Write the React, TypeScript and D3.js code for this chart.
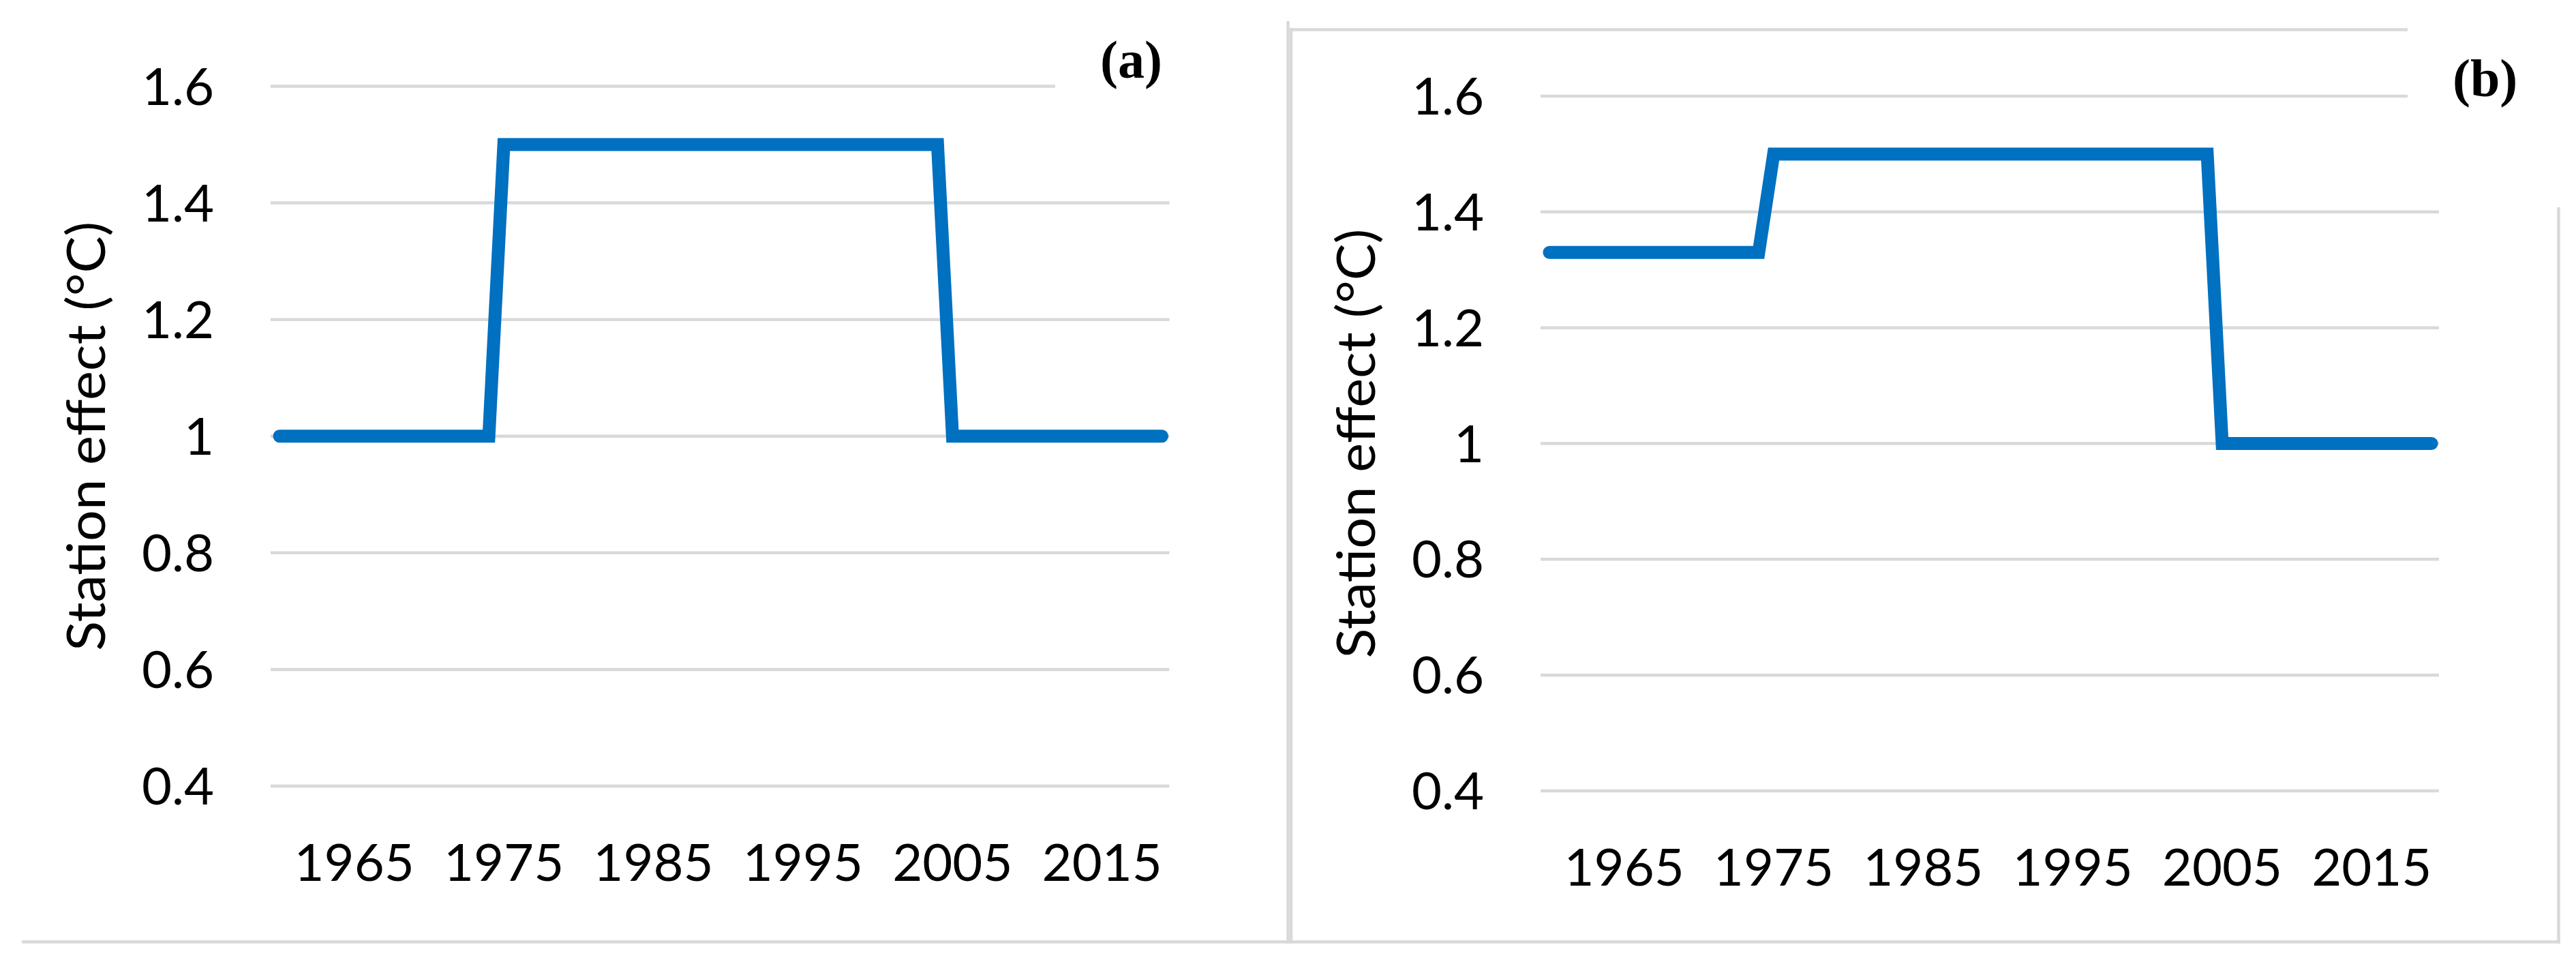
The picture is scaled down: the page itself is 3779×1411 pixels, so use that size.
import React, { FC, useMemo } from 'react'
import * as d3 from 'd3'

// years on the category axis
const years = [
	1960, 1961, 1962, 1963, 1964, 1965, 1966, 1967, 1968, 1969,
	1970, 1971, 1972, 1973, 1974, 1975, 1976, 1977, 1978, 1979,
	1980, 1981, 1982, 1983, 1984, 1985, 1986, 1987, 1988, 1989,
	1990, 1991, 1992, 1993, 1994, 1995, 1996, 1997, 1998, 1999,
	2000, 2001, 2002, 2003, 2004, 2005, 2006, 2007, 2008, 2009,
	2010, 2011, 2012, 2013, 2014, 2015, 2016, 2017, 2018, 2019
]

// station effect, panel (a)
const effectA = [
	1, 1, 1, 1, 1, 1, 1, 1, 1, 1,
	1, 1, 1, 1, 1, 1.5, 1.5, 1.5, 1.5, 1.5,
	1.5, 1.5, 1.5, 1.5, 1.5, 1.5, 1.5, 1.5, 1.5, 1.5,
	1.5, 1.5, 1.5, 1.5, 1.5, 1.5, 1.5, 1.5, 1.5, 1.5,
	1.5, 1.5, 1.5, 1.5, 1.5, 1, 1, 1, 1, 1,
	1, 1, 1, 1, 1, 1, 1, 1, 1, 1
]

// station effect, panel (b)
const effectB = [
	1.33, 1.33, 1.33, 1.33, 1.33, 1.33, 1.33, 1.33, 1.33, 1.33,
	1.33, 1.33, 1.33, 1.33, 1.33, 1.5, 1.5, 1.5, 1.5, 1.5,
	1.5, 1.5, 1.5, 1.5, 1.5, 1.5, 1.5, 1.5, 1.5, 1.5,
	1.5, 1.5, 1.5, 1.5, 1.5, 1.5, 1.5, 1.5, 1.5, 1.5,
	1.5, 1.5, 1.5, 1.5, 1.5, 1, 1, 1, 1, 1,
	1, 1, 1, 1, 1, 1, 1, 1, 1, 1
]

const xTicks = [1965, 1975, 1985, 1995, 2005, 2015]
const yTicks = [0.4, 0.6, 0.8, 1, 1.2, 1.4, 1.6]

const GRID = '#d9d9d9'
const BLUE = '#0070c0'
const SANS = 'Lato, "Open Sans", sans-serif'

interface IPanel {
	values: number[]
	left: number
	right: number
	top: number
	bottom: number
	label: string
	labelX: number
	labelY: number
}

const Panel: FC<IPanel> = ({ values, left, right, top, bottom, label, labelX, labelY }) => {
	const x = useMemo(
		() => d3.scaleLinear().domain([1959.5, 2019.5]).range([left, right]),
		[left, right]
	)
	const y = useMemo(
		() => d3.scaleLinear().domain([0.4, 1.6]).range([bottom, top]),
		[top, bottom]
	)
	const path = d3
		.line<number>()
		.x((_, i) => x(years[i]))
		.y(d => y(d))(values)

	const midY = (y(0.4) + y(1.6)) / 2

	return (
		<g>
			{/* grid */}
			{yTicks.map(t => (
				<line
					key={t}
					x1={left - 2}
					x2={t === 1.6 ? labelX - 66 : right}
					y1={y(t)}
					y2={y(t)}
					stroke={GRID}
					strokeWidth={4.5}
				/>
			))}
			{/* y tick labels */}
			{yTicks.map(t => (
				<text
					key={t}
					x={left - 85}
					y={y(t) + 27}
					textAnchor="end"
					fontFamily={SANS}
					fontSize={76}
					fill="#000"
				>
					{String(t)}
				</text>
			))}
			{/* x tick labels */}
			{xTicks.map(t => (
				<text
					key={t}
					x={x(t)}
					y={y(0.4) + 139}
					textAnchor="middle"
					fontFamily={SANS}
					fontSize={76}
					fill="#000"
				>
					{t}
				</text>
			))}
			<text
				transform={`translate(${left - 245}, ${midY}) rotate(-90)`}
				textAnchor="middle"
				fontFamily={SANS}
				fontSize={78}
				textLength={630}
				lengthAdjust="spacingAndGlyphs"
				fill="#000"
			>
				Station effect (°C)
			</text>
			<path
				d={path || ''}
				fill="none"
				stroke={BLUE}
				strokeWidth={19}
				strokeLinecap="round"
				strokeLinejoin="miter"
			/>
			<text
				x={labelX}
				y={labelY}
				fontFamily='"Liberation Serif", "Times New Roman", serif'
				fontWeight="bold"
				fontSize={78}
				fill="#000"
			>
				{label}
			</text>
		</g>
	)
}

const App: FC = () => {
	return (
		<svg
			width={3779}
			height={1411}
			style={{ position: 'absolute', left: 0, top: 0, background: '#fff' }}
		>
			<rect x={0} y={0} width={3779} height={1411} fill="#fff" />
			{/* frames */}
			<g stroke={GRID} strokeWidth={4.5} fill="none">
				<line x1={32} x2={3756} y1={1381.5} y2={1381.5} />
				<line x1={1889.5} x2={1889.5} y1={31} y2={1384} />
				<line x1={1894} x2={1894} y1={41} y2={1384} />
				<line x1={1892} x2={3532} y1={43.5} y2={43.5} />
				<line x1={3753.5} x2={3753.5} y1={304} y2={1384} />
			</g>
			<Panel
				values={effectA}
				left={399}
				right={1715.5}
				top={126.5}
				bottom={1153}
				label="(a)"
				labelX={1614}
				labelY={114}
			/>
			<Panel
				values={effectB}
				left={2262}
				right={3578}
				top={141}
				bottom={1160}
				label="(b)"
				labelX={3598}
				labelY={141}
			/>
		</svg>
	)
}

export default App
